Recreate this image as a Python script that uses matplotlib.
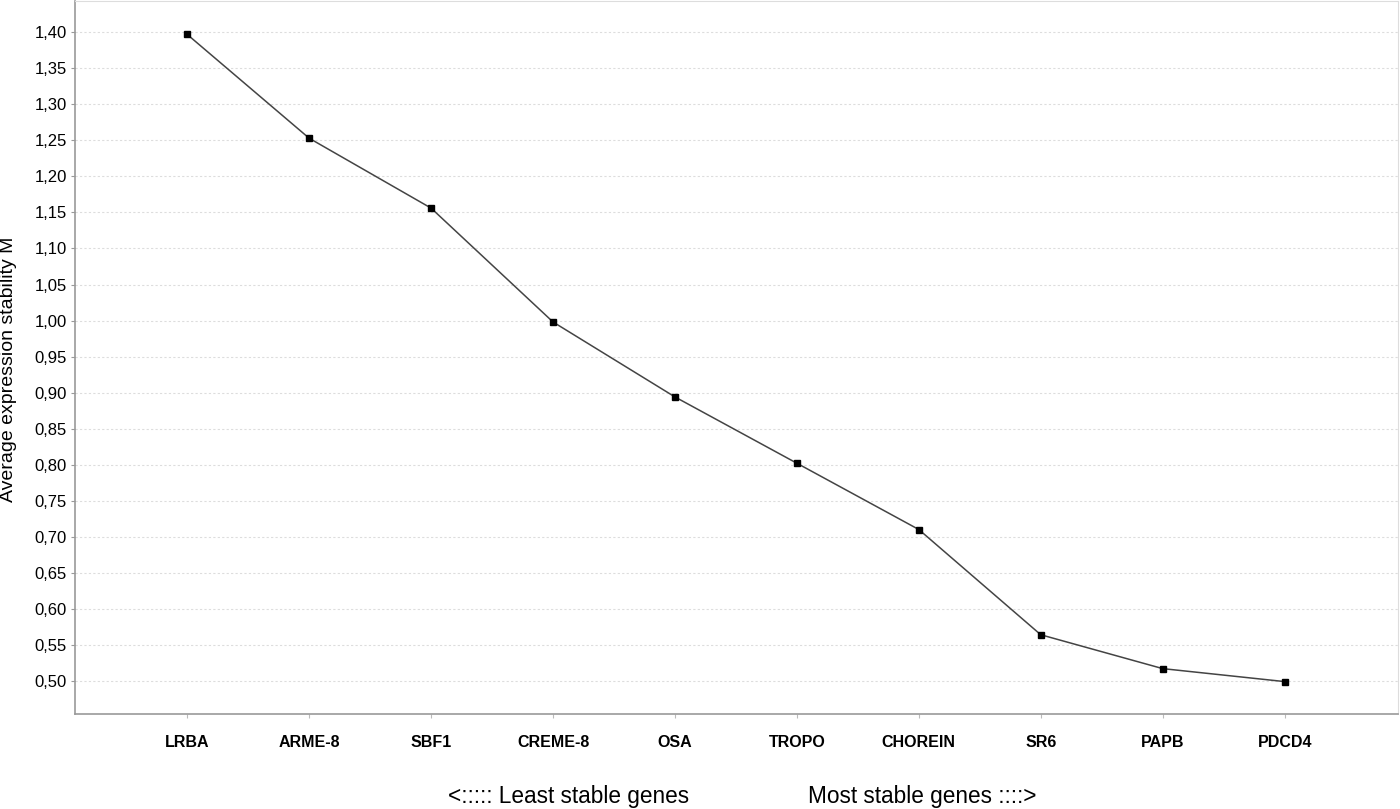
import matplotlib.pyplot as plt
from matplotlib.ticker import FuncFormatter

genes = ["LRBA", "ARME-8", "SBF1", "CREME-8", "OSA", "TROPO", "CHOREIN", "SR6", "PAPB", "PDCD4"]
m_values = [1.397, 1.253, 1.156, 0.998, 0.894, 0.802, 0.710, 0.564, 0.517, 0.499]
y_ticks = [0.50, 0.55, 0.60, 0.65, 0.70, 0.75, 0.80, 0.85, 0.90, 0.95,
           1.00, 1.05, 1.10, 1.15, 1.20, 1.25, 1.30, 1.35, 1.40]

plt.rcParams['font.family'] = ['Liberation Sans', 'DejaVu Sans']

fig = plt.figure(figsize=(14, 8.09), dpi=100)
ax = fig.add_axes([0.0536, 0.1174, 0.945, 0.881])

x = list(range(len(genes)))
ax.plot(x, m_values, color='#444444', linewidth=1.1, marker='s', markersize=5,
        markerfacecolor='black', markeredgecolor='black', zorder=3)

ax.set_xlim(-0.92, 9.93)
ax.set_ylim(0.454, 1.443)
ax.set_yticks(y_ticks)
ax.yaxis.set_major_formatter(FuncFormatter(lambda v, p: f"{v:.2f}".replace('.', ',')))
ax.set_xticks(x)
ax.set_xticklabels(genes, fontweight='bold', fontsize=11.5)
ax.tick_params(axis='y', labelsize=12, length=3, color='#999999', pad=3)
ax.tick_params(axis='x', length=3, color='#bbbbbb', pad=12)
ax.grid(axis='y', color='#dddddd', linestyle=(0, (2, 2)), linewidth=0.8)

for side in ['left', 'bottom']:
    ax.spines[side].set_color('#999999')
    ax.spines[side].set_linewidth(1.2)
for side in ['top', 'right']:
    ax.spines[side].set_color('#dddddd')

ax.set_ylabel("Average expression stability M", fontsize=14)
ax.yaxis.set_label_coords(-0.0435, 0.484)
fig.text(0.32, 0.016, "<::::: Least stable genes", fontsize=16.3, ha='left', va='center')
fig.text(0.577, 0.016, "Most stable genes ::::>", fontsize=16.3, ha='left', va='center')

fig.savefig("out.png", dpi=100)
